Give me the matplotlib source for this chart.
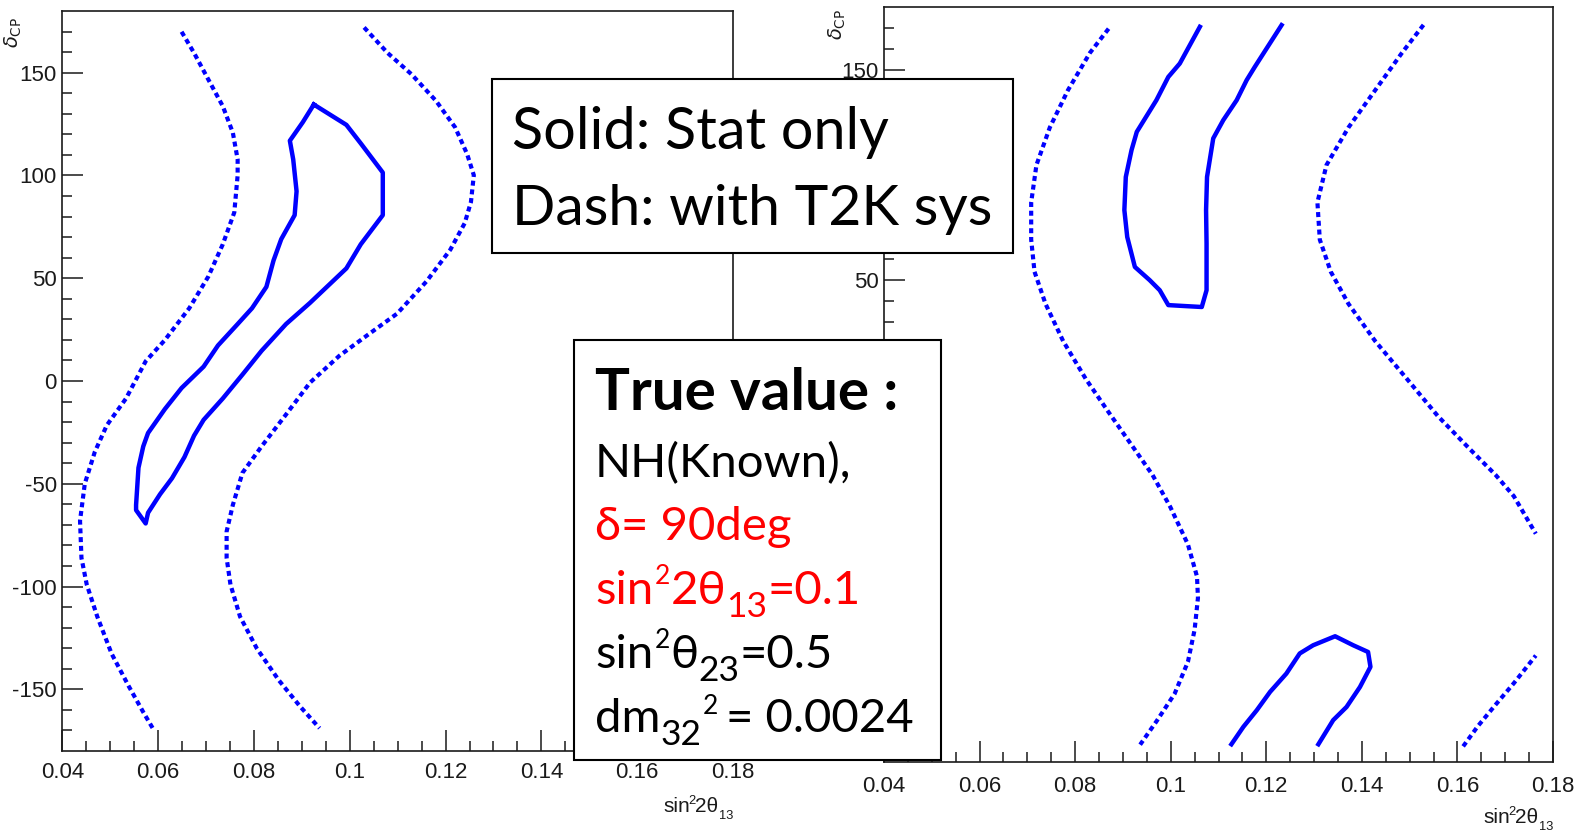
import matplotlib
matplotlib.use('Agg')
import matplotlib.pyplot as plt
from matplotlib.patches import Rectangle

plt.rcParams['axes.unicode_minus'] = False

W, H = 1580, 836
BOX_FONT = ['Lato', 'DejaVu Sans']
TICK_FONT = ['Liberation Sans Narrow', 'Liberation Sans', 'DejaVu Sans']
BLUE = '#0000ff'

# axis ticks (same for both panels)
x_ticks = [0.04, 0.06, 0.08, 0.1, 0.12, 0.14, 0.16, 0.18]
x_tick_labels = ['0.04', '0.06', '0.08', '0.1', '0.12', '0.14', '0.16', '0.18']
y_ticks = [-150, -100, -50, 0, 50, 100, 150]
y_tick_labels = ['-150', '-100', '-50', '0', '50', '100', '150']

# left panel: stat only (closed contour)
left_stat_x = [0.0925, 0.0993, 0.1023, 0.1069, 0.1069, 0.1023, 0.0993, 0.0917, 0.0867, 0.0816,
               0.0776, 0.0735, 0.0695, 0.0675, 0.0655, 0.0629, 0.0604, 0.0579, 0.0574, 0.0554,
               0.0554, 0.0559, 0.0569, 0.0579, 0.0614, 0.0649, 0.0695, 0.0725, 0.0766, 0.0796,
               0.0826, 0.0841, 0.0857, 0.0885, 0.0889, 0.0882, 0.0875, 0.0902, 0.0925]
left_stat_y = [134.5, 124.6, 115.6, 101.4, 80.7, 66.5, 54.8, 38.0, 27.7, 14.7,
               3.1, -8.5, -18.9, -26.6, -37.0, -47.3, -55.1, -64.1, -69.3, -62.8,
               -60.3, -42.2, -31.8, -25.3, -13.7, -3.4, 7.0, 17.3, 27.7, 35.4,
               45.8, 58.7, 69.0, 80.7, 92.3, 107.8, 116.9, 125.9, 134.5]

# left panel: with T2K sys (two open curves)
left_sys1_x = [0.0649, 0.0675, 0.0705, 0.0735, 0.0756, 0.0766, 0.0766, 0.0759, 0.0735, 0.0705,
               0.0665, 0.0614, 0.0574, 0.0533, 0.0493, 0.0468, 0.0447, 0.0437, 0.0440, 0.0451,
               0.0473, 0.0503, 0.0538, 0.0569, 0.0592]
left_sys1_y = [169.9, 159.6, 146.6, 133.7, 120.8, 107.8, 100.1, 82.0, 66.5, 50.9,
               35.4, 19.9, 9.6, -8.5, -21.5, -34.4, -49.9, -68.0, -86.1, -99.0,
               -114.6, -132.7, -148.2, -161.1, -170.2]
left_sys2_x = [0.1030, 0.1079, 0.1129, 0.1180, 0.1220, 0.1245, 0.1259, 0.1253, 0.1240, 0.1210,
               0.1160, 0.1099, 0.1038, 0.0978, 0.0917, 0.0867, 0.0816, 0.0776, 0.0756, 0.0743,
               0.0743, 0.0751, 0.0771, 0.0806, 0.0852, 0.0897, 0.0937]
left_sys2_y = [172.0, 159.6, 149.2, 136.3, 123.4, 110.4, 100.1, 87.1, 76.8, 63.9,
               48.4, 32.8, 22.5, 12.2, -0.8, -16.3, -31.8, -44.7, -60.3, -73.2,
               -86.1, -99.0, -114.6, -130.1, -145.6, -158.5, -168.9]

# right panel: stat only
right_stat_top_x = [0.1061, 0.1019, 0.0995, 0.0970, 0.0929, 0.0918, 0.0906, 0.0903, 0.0909, 0.0925,
                    0.0956, 0.0977, 0.0995, 0.1033, 0.1065, 0.1075, 0.1075, 0.1074, 0.1076, 0.1089,
                    0.1110, 0.1138, 0.1159, 0.1176, 0.1194, 0.1232]
right_stat_top_y = [170.7, 153.2, 146.8, 135.7, 120.6, 111.9, 99.1, 83.3, 70.5, 56.2,
                    49.9, 45.1, 38.0, 37.5, 37.1, 45.1, 67.4, 83.3, 99.1, 117.5,
                    126.2, 135.7, 145.3, 151.6, 158.0, 171.5]
right_stat_bot_x = [0.1127, 0.1152, 0.1180, 0.1208, 0.1242, 0.1270, 0.1298, 0.1344, 0.1382, 0.1413,
                    0.1418, 0.1396, 0.1368, 0.1340, 0.1309]
right_stat_bot_y = [-171.4, -163.1, -155.2, -146.4, -137.7, -128.1, -124.2, -119.9, -124.2, -127.4,
                    -134.5, -144.1, -153.6, -159.9, -171.4]

# right panel: with T2K sys
right_sys1_x = [0.0870, 0.0831, 0.0785, 0.0747, 0.0719, 0.0708, 0.0708, 0.0715, 0.0738, 0.0775,
                0.0822, 0.0868, 0.0915, 0.0962, 0.0999, 0.1036, 0.1055, 0.1057, 0.1050, 0.1036,
                0.1008, 0.0971, 0.0936]
right_sys1_y = [169.8, 158.3, 140.5, 122.7, 104.8, 87.0, 69.2, 53.9, 38.6, 20.8,
                2.9, -12.4, -27.7, -43.0, -58.2, -76.1, -91.4, -101.6, -116.8, -132.1,
                -147.4, -160.2, -171.6]
right_sys2_x = [0.1529, 0.1484, 0.1428, 0.1372, 0.1326, 0.1307, 0.1312, 0.1335, 0.1372, 0.1428,
                0.1494, 0.1559, 0.1624, 0.1680, 0.1718, 0.1764]
right_sys2_y = [171.6, 158.3, 140.5, 122.7, 104.8, 87.0, 69.2, 53.9, 38.6, 20.8,
                2.9, -14.9, -30.2, -43.0, -53.1, -71.0]
right_sys3_x = [0.1612, 0.1643, 0.1680, 0.1718, 0.1764]
right_sys3_y = [-172.4, -162.7, -152.5, -142.3, -129.1]

fig = plt.figure(figsize=(W / 100, H / 100), dpi=100)
renderer = fig.canvas.get_renderer()


def frac(x, y):
    # pixel position from the top-left corner -> figure fraction
    return x / W, 1 - y / H


def setup(ax, label_pad):
    ax.set_xlim(0.04, 0.18)
    ax.set_ylim(-180, 180)
    ax.set_xticks(x_ticks)
    ax.set_xticklabels(x_tick_labels)
    ax.set_yticks(y_ticks)
    ax.set_yticklabels(y_tick_labels)
    ax.set_xticks([0.04 + 0.005 * i for i in range(29)], minor=True)
    ax.set_yticks(list(range(-170, 180, 10)), minor=True)
    ax.tick_params(which='both', direction='in', top=False, right=False, width=1.1, color='#1a1a1a')
    ax.tick_params(which='major', length=15)
    ax.tick_params(which='minor', length=7.5)
    ax.tick_params(axis='y', pad=4)
    ax.tick_params(axis='x', pad=label_pad)
    for lab in ax.get_xticklabels() + ax.get_yticklabels():
        lab.set_family(TICK_FONT)
        lab.set_fontsize(16)
        lab.set_color('#1a1a1a')
    for sp in ax.spines.values():
        sp.set_linewidth(1.2)
        sp.set_color('#1a1a1a')


def runs(x, y, parts, size, color, family, weight='normal', right=None):
    # draw text pieces one after the other; each part: (text, scale, raise_px, gap_px)
    texts = []
    for s, scale, dy, gap in parts:
        x += gap
        t = fig.text(x / W, 1 - (y - dy) / H, s, fontsize=size * scale, color=color,
                     family=family, weight=weight, ha='left', va='baseline', zorder=6)
        texts.append(t)
        x = t.get_window_extent(renderer=renderer).x1
    if right is not None:
        shift = right - x
        for t in texts:
            px, py = t.get_position()
            t.set_position((px + shift / W, py))


dash = (0, (1.2, 0.9))

ax1 = fig.add_axes([*frac(62.3, 751), (733 - 62.3) / W, (751 - 11) / H])
setup(ax1, 8)
ax1.plot(left_stat_x, left_stat_y, color=BLUE, lw=3.2)
ax1.plot(left_sys1_x, left_sys1_y, color=BLUE, lw=3, linestyle=dash)
ax1.plot(left_sys2_x, left_sys2_y, color=BLUE, lw=3, linestyle=dash)

ax2 = fig.add_axes([*frac(884, 762.3), (1553 - 884) / W, (762.3 - 7.3) / H])
setup(ax2, 10)
ax2.plot(right_stat_top_x, right_stat_top_y, color=BLUE, lw=3.2)
ax2.plot(right_stat_bot_x, right_stat_bot_y, color=BLUE, lw=3.2)
ax2.plot(right_sys1_x, right_sys1_y, color=BLUE, lw=3, linestyle=dash)
ax2.plot(right_sys2_x, right_sys2_y, color=BLUE, lw=3, linestyle=dash)
ax2.plot(right_sys3_x, right_sys3_y, color=BLUE, lw=3, linestyle=dash)

# axis titles (ROOT style: at the far end of each axis)
xlab = [('sin', 1, 0, 0), ('2', 0.62, 8, -2), ('2\u03b8', 1, 0, 0), ('13', 0.62, -7, 0)]
runs(670, 812, xlab, 15, '#1a1a1a', TICK_FONT, right=733)
runs(1490, 823, xlab, 15, '#1a1a1a', TICK_FONT, right=1553)
fig.text(*frac(13, 17), r'$\delta_{\rm CP}$', rotation=90, ha='center', va='top',
         fontsize=14, color='#1a1a1a')
fig.text(*frac(837, 9), r'$\delta_{\rm CP}$', rotation=90, ha='center', va='top',
         fontsize=14, color='#1a1a1a')

# legend box
fig.patches.append(Rectangle(frac(492, 253), (1013 - 492) / W, (253 - 79) / H,
                             transform=fig.transFigure, facecolor='white',
                             edgecolor='black', lw=1.5, zorder=5))
runs(512, 149, [('Solid: Stat only', 1, 0, 0)], 41.5, 'black', BOX_FONT)
runs(512, 225, [('Dash: with T2K sys', 1, 0, 0)], 41, 'black', BOX_FONT)

# true value box
fig.patches.append(Rectangle(frac(574, 760), (941 - 574) / W, (760 - 340) / H,
                             transform=fig.transFigure, facecolor='white',
                             edgecolor='black', lw=1.5, zorder=5))
fs = 34
runs(595, 410, [('True value :', 1, 0, 0)], 42, 'black', BOX_FONT, weight='bold')
runs(595, 477, [('NH(Known),', 1, 0, 0)], fs, 'black', BOX_FONT)
runs(595, 540, [('\u03b4= 90deg', 1, 0, 0)], fs, 'red', BOX_FONT)
runs(595, 604, [('sin', 1, 0, 0), ('2', 0.56, 20, 1), ('2\u03b8', 1, 0, 1),
                ('13', 0.75, -13, 0), ('=0.1', 1, 0, 0)], fs, 'red', BOX_FONT)
runs(595, 668, [('sin', 1, 0, 0), ('2', 0.56, 20, 1), ('\u03b8', 1, 0, 1),
                ('23', 0.75, -13, 0), ('=0.5', 1, 0, 0)], fs, 'black', BOX_FONT)
runs(595, 732, [('dm', 1, 0, 0), ('32', 0.75, -13, 0), ('2', 0.56, 18, 1),
                ('= 0.0024', 1, 0, 8)], fs, 'black', BOX_FONT)

fig.savefig('out.png', dpi=100)
